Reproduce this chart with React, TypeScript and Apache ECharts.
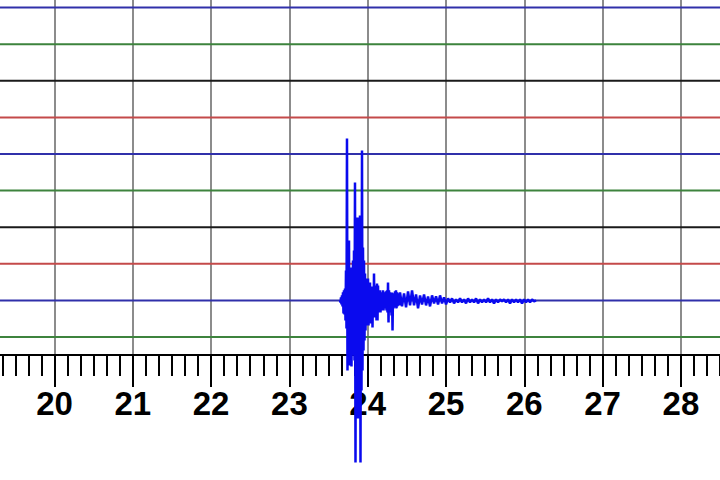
import React, { useEffect, useRef } from "react";
import * as echarts from "echarts";

// x axis: minutes
const X_MIN = 19;
const X_MAX = 29;
const TICK_LABELS = ["", "20", "21", "22", "23", "24", "25", "26", "27", "28", ""];

// helicorder trace lines, bottom to top
const TRACE_GAP = 36.6;
const traceColors = [
  "#3d833d", "#3030aa", "#c44a4a", "#1a1a1a", "#3d833d",
  "#3030aa", "#c44a4a", "#1a1a1a", "#3d833d", "#3030aa",
];
const SIGNAL_TRACE = 1;

// event: main burst, sampled at a fine step (minutes)
const burstStart = 23.646;
const burstStep = 0.00639;
const burstAmp = [
  0, -2, 3, -4, 5, -6, 8, -13, 10, -14, 12, -20, 30, -28, 162, -70,
  60, -60, 60, -65, 30, -50, 33, -66, 28, -40, 40, -55, 50, -60, 118, -162,
  70, -118, 83, -110, 83, -118, 80, -100, 85, -162, 80, -90, 150, -70, 53, -50,
  40, -40, 27, -30, 20, -25, 22, -20, 22, -25, 15, -20, 18, -23, 12, -18,
  14, -27, 10, -15, 27, -17, 12, -14, 15, -20, 17, -20, 15, -12, 10, -10,
  10, -12, 8, -8, 8, -10, 10, -10, 7, -8, 8, -7, 9, -10, 10, -12,
  18, -22, 10, -12, 8, -10, 7, -15, 8, -30, 6, -8, 7, -6, 9, -7,
  10, -8, 8, -6, 6, -5, 7, -5,
];

// event: coda, sampled at a coarser step (minutes)
const tailStart = 24.413;
const tailStep = 0.02554;
const tailAmp = [
  8, -6, 7, -7, 9, -5, 10, -5, 6, -8, 5, -4, 6, -5, 4, -6,
  5, -3, 4, -4, 5, -3, 3, -4, 2, -2, 2, -3, 1, -2, 2, -2,
  1, -3, 2, -2, 1, -2, 2, -3, 1, -2, 1, -2, 2, -2, 1, -3,
  1, -2, 1, -1, 1, -2, 1, -3, 1, -2, 1, -2, 1, -3, 1, -2,
  1, -2, 1, -1, 0,
];

export default function App() {
  const ref = useRef<HTMLDivElement>(null);

  useEffect(() => {
    if (!ref.current) return;
    const chart = echarts.init(ref.current, null, { renderer: "svg" });

    const traceSeries = traceColors.map((c, k) => ({
      type: "line",
      data: [
        [X_MIN, k * TRACE_GAP],
        [X_MAX, k * TRACE_GAP],
      ],
      symbol: "none",
      silent: true,
      lineStyle: { color: c, width: 2 },
      z: 3,
    }));

    const base = SIGNAL_TRACE * TRACE_GAP;
    const signal: number[][] = [];
    burstAmp.forEach((a, i) => signal.push([burstStart + i * burstStep, base + a]));
    tailAmp.forEach((a, i) => signal.push([tailStart + i * tailStep, base + a]));

    chart.setOption({
      animation: false,
      backgroundColor: "#ffffff",
      grid: {
        left: -23.8,
        right: -39.2,
        top: 0,
        bottom: 125,
        containLabel: false,
        outerBoundsMode: "none",
      },
      xAxis: {
        type: "value",
        min: X_MIN,
        max: X_MAX,
        interval: 1,
        axisLine: { show: true, onZero: false, lineStyle: { color: "#000", width: 2 } },
        axisTick: { show: true, length: 32, lineStyle: { color: "#000", width: 2 } },
        minorTick: { show: true, splitNumber: 6, length: 21, lineStyle: { color: "#000", width: 2 } },
        splitLine: { show: true, lineStyle: { color: "#8c8c8c", width: 2 } },
        axisLabel: {
          show: true,
          margin: 32,
          color: "#000",
          fontFamily: "Liberation Sans",
          fontWeight: "bold",
          fontSize: 33,
          formatter: (v: number) => TICK_LABELS[Math.round(v - X_MIN)] ?? "",
        },
      },
      yAxis: {
        type: "value",
        min: -18,
        max: 337,
        show: false,
        splitLine: { show: false },
      },
      series: [
        ...traceSeries,
        {
          type: "line",
          data: signal,
          symbol: "none",
          clip: false,
          silent: true,
          lineStyle: { color: "#0a0aee", width: 2.5 },
          z: 5,
        },
      ],
    });

    return () => chart.dispose();
  }, []);

  return (
    <div
      ref={ref}
      style={{ position: "fixed", left: 0, top: 0, width: 720, height: 480 }}
    />
  );
}
